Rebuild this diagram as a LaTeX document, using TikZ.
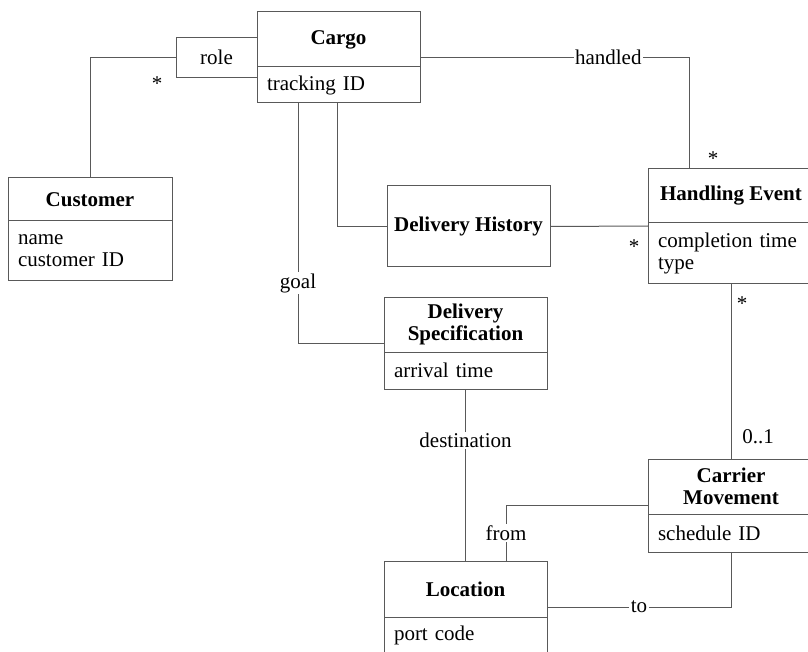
\documentclass[tikz,border=0pt]{standalone}
\usepackage{fontspec}
\setmainfont{Liberation Serif}
\usetikzlibrary{positioning, fit}

\begin{document}
\begin{tikzpicture}[
    x=1pt, y=-1pt,
    font=\fontsize{21}{22}\selectfont,
    line/.style={draw=black!65, line width=1pt},
    head/.style={line, outer sep=0pt, font=\fontsize{21}{22}\selectfont\bfseries,
                 align=center, minimum width=#1},
    attr/.style={line, outer sep=0pt, align=left, inner xsep=10pt, inner ysep=0pt,
                 text width=#1},
    rolebox/.style={line, outer sep=0pt, minimum width=81pt, minimum height=40pt},
    whole/.style={inner sep=0pt, outer sep=0pt},
    lbl/.style={fill=white, inner sep=1.5pt},
    mult/.style={inner sep=0pt}
  ]
    \path[use as bounding box] (0,0) rectangle (808,652);
    \clip (0,0) rectangle (808,652);

    % classes
    \node[head=163pt, minimum height=55pt] (cargo) at (338.5,39.5) {Cargo};
    \node[attr=143pt, minimum height=36pt, below=0pt of cargo] (cargoA) {tracking ID};
    \node[whole, fit=(cargo)(cargoA)] (cargoBox) {};

    \node[head=164pt, minimum height=43pt] (cust) at (90,199.5) {Customer};
    \node[attr=144pt, minimum height=59pt, below=0pt of cust] (custA) {name\\customer ID};

    \node[head=163pt, minimum height=81pt] (hist) at (468.5,226.5) {Delivery History};

    \node[head=166pt, minimum height=54pt] (event) at (731,196) {Handling Event};
    \node[attr=146pt, minimum height=60pt, below=0pt of event] (eventA) {completion time\\type};
    \node[whole, fit=(event)(eventA)] (eventBox) {};

    \node[head=163pt, minimum height=55pt] (spec) at (465.5,324.5) {Delivery\\Specification};
    \node[attr=143pt, minimum height=37pt, below=0pt of spec] (specA) {arrival time};
    \node[whole, fit=(spec)(specA)] (specBox) {};

    \node[head=163pt, minimum height=56pt] (loc) at (465.5,589) {Location};
    \node[attr=143pt, minimum height=36pt, below=0pt of loc] (locA) {port code};
    \node[whole, fit=(loc)(locA)] (locBox) {};

    \node[head=166pt, minimum height=55pt] (move) at (731,486.5) {Carrier\\Movement};
    \node[attr=146pt, minimum height=38pt, below=0pt of move] (moveA) {schedule ID};
    \node[whole, fit=(move)(moveA)] (moveBox) {};

    \node[rolebox, left=0pt of cargoBox.west] (role) {role};

    % associations
    \coordinate (hturn) at (689,0);
    \coordinate (gx) at (298,0);
    \coordinate (hx) at (337,0);
    \coordinate (fx) at (506,0);

    \draw[line] (role.west) -| (cust.north);
    \draw[line] (cargoBox.east) -- node[lbl, pos=0.7] {handled} (cargoBox.east -| hturn)
                -- (event.north -| hturn);
    \draw[line] (cargoA.south -| gx) |- node[lbl, pos=0.375] {goal} (specBox.west);
    \draw[line] (cargoA.south -| hx) |- (hist.west);
    \draw[line] (hist.east) -- (eventBox.west);
    \draw[line] (eventA.south) -- (move.north);
    \draw[line] (specA.south) -- node[lbl, pos=0.3] {destination} (loc.north);
    \draw[line] (loc.north -| fx) |- node[lbl, pos=0.25] {from} (moveBox.west);
    \draw[line] (moveA.south) |- node[lbl, pos=0.75] {to} (locBox.east);

    % multiplicities
    \node[mult] (mRole)   at (157,84)  {*};
    \node[mult] (mHandle) at (713,159) {*};
    \node[mult] (mHist)   at (634,247) {*};
    \node[mult] (mEvent)  at (742,304) {*};
    \node[mult] (mMove)   at (758,437) {0..1};
  \end{tikzpicture}
\end{document}
